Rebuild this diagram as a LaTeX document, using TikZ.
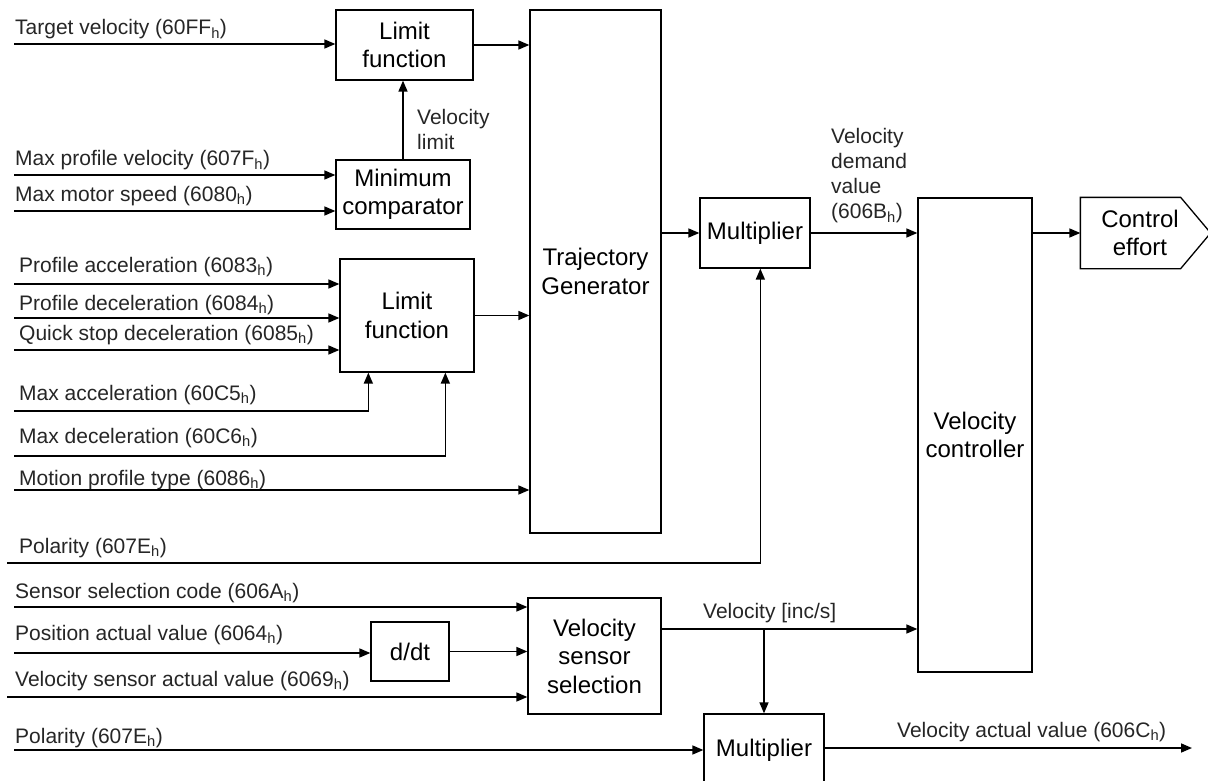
\documentclass[tikz,border=0pt]{standalone}
\usepackage{fontspec}
\setmainfont{Liberation Sans}
\usetikzlibrary{arrows.meta}
\newcommand{\hsub}{\textsubscript{h}}
\begin{document}
\begin{tikzpicture}[x=1pt,y=-1pt,
  blk/.style={draw, line width=1.3pt, inner sep=0pt, align=center,
    font=\fontsize{24}{28.5}\selectfont},
  lbl/.style={anchor=base west, inner sep=0pt, text=black!85,
    font=\fontsize{21}{25}\selectfont},
  mlbl/.style={anchor=west, inner sep=0pt, align=left, text=black!85,
    font=\fontsize{21}{25}\selectfont},
  sig/.style={line width=1.6pt},
  arr/.style={sig, -{Triangle[length=11pt,width=9pt]}}]
\useasboundingbox[fill=white] (0,0) rectangle (1208,781);

% processing blocks
\node[blk, minimum width=137, minimum height=70] (lim1) at (404.5,45) {Limit\\function};
\node[blk, minimum width=131, minimum height=523] (traj) at (595.5,271.5) {Trajectory\\Generator};
\node[blk, minimum width=134, minimum height=69] (minc) at (403,194.5) {Minimum\\comparator};
\node[blk, minimum width=134, minimum height=113] (lim2) at (407,315.5) {Limit\\function};
\node[blk, minimum width=110, minimum height=70] (mul1) at (755,233) {Multiplier};
\node[blk, minimum width=114, minimum height=474] (velc) at (975,435) {Velocity\\controller};
% output terminal: pointed box
\node[blk, draw=none, minimum width=118, minimum height=70] (ctrl) at (1140,233) {Control\\effort};
\draw[line width=1.3pt] (ctrl.north west) -- ([xshift=-19pt]ctrl.north east)
  -- ([xshift=11pt]ctrl.east) -- ([xshift=-19pt]ctrl.south east)
  -- (ctrl.south west) -- cycle;
\node[blk, minimum width=133, minimum height=116] (vss) at (594.5,656) {Velocity\\sensor\\selection};
\node[blk, minimum width=78, minimum height=59] (ddt) at (410,651.5) {d/dt};
\node[blk, minimum width=120, minimum height=72] (mul2) at (764,750) {Multiplier};

% free ends of the input signals
\coordinate (tv) at (14,44);
\coordinate (mpv) at (14,175);
\coordinate (mms) at (14,211);
\coordinate (pa) at (14,284);
\coordinate (pd) at (14,318);
\coordinate (qs) at (14,350);
\coordinate (ma) at (14,411);
\coordinate (md) at (14,456);
\coordinate (mpt) at (14,490);
\coordinate (pol1) at (7,563);
\coordinate (ssc) at (14,607);
\coordinate (pav) at (14,653);
\coordinate (vsav) at (7,697);
\coordinate (pol2) at (14,750);
\coordinate (vav) at (1192,748);

% input labels
\node[lbl] at (15,35) {Target velocity (60FF\hsub)};
\node[lbl] at (15,166) {Max profile velocity (607F\hsub)};
\node[lbl] at (15,201) {Max motor speed (6080\hsub)};
\node[lbl] at (19,272) {Profile acceleration (6083\hsub)};
\node[lbl] at (19,310) {Profile deceleration (6084\hsub)};
\node[lbl] at (19,340) {Quick stop deceleration (6085\hsub)};
\node[lbl] at (19,400) {Max acceleration (60C5\hsub)};
\node[lbl] at (19,443) {Max deceleration (60C6\hsub)};
\node[lbl] at (19,485) {Motion profile type (6086\hsub)};
\node[lbl] at (19,553) {Polarity (607E\hsub)};
\node[lbl] at (15,598) {Sensor selection code (606A\hsub)};
\node[lbl] at (15,640) {Position actual value (6064\hsub)};
\node[lbl] at (15,686) {Velocity sensor actual value (6069\hsub)};
\node[lbl] at (15,743) {Polarity (607E\hsub)};

% internal labels
\node[mlbl] at (417,129) {Velocity\\limit};
\node[mlbl] at (831,176) {Velocity\\demand\\value\\(606B\hsub)};
\node[lbl] at (703,618) {Velocity [inc/s]};
\node[lbl] at (897,737) {Velocity actual value (606C\hsub)};

% signal paths
\draw[arr] (tv) -- (tv -| lim1.west);
\draw[arr] (lim1.east) -- (lim1.east -| traj.west);
\draw[arr] (mpv) -- (mpv -| minc.west);
\draw[arr] (mms) -- (mms -| minc.west);
\draw[arr] (minc.north) -- (minc.north |- lim1.south);
\draw[arr] (pa) -- (pa -| lim2.west);
\draw[arr] (pd) -- (pd -| lim2.west);
\draw[arr] (qs) -- (qs -| lim2.west);
\draw[arr] (ma) -| ([xshift=29pt]lim2.south west);
\draw[arr] (md) -| ([xshift=106pt]lim2.south west);
\draw[arr] (lim2.east) -- (lim2.east -| traj.west);
\draw[arr] (mpt) -- (mpt -| traj.west);
\draw[arr] (pol1) -| ([xshift=61pt]mul1.south west);
\draw[arr] (traj.east |- mul1.west) -- (mul1.west);
\draw[arr] (mul1.east) -- (mul1.east -| velc.west);
\draw[arr] (velc.east |- ctrl.west) -- (ctrl.west);
\draw[arr] (ssc) -- (ssc -| vss.west);
\draw[arr] (pav) -- (pav -| ddt.west);
\draw[arr] (ddt.east) -- (ddt.east -| vss.west);
\draw[arr] (vsav) -- (vsav -| vss.west);
\coordinate (vo) at ([yshift=27pt]vss.east);
\draw[arr] (vo) -- (vo -| velc.west);
\draw[arr] (vo -| mul2.north) -- (mul2.north);
\draw[arr] (pol2) -- (pol2 -| mul2.west);
\draw[arr] (mul2.east |- vav) -- (vav);
\end{tikzpicture}
\end{document}
